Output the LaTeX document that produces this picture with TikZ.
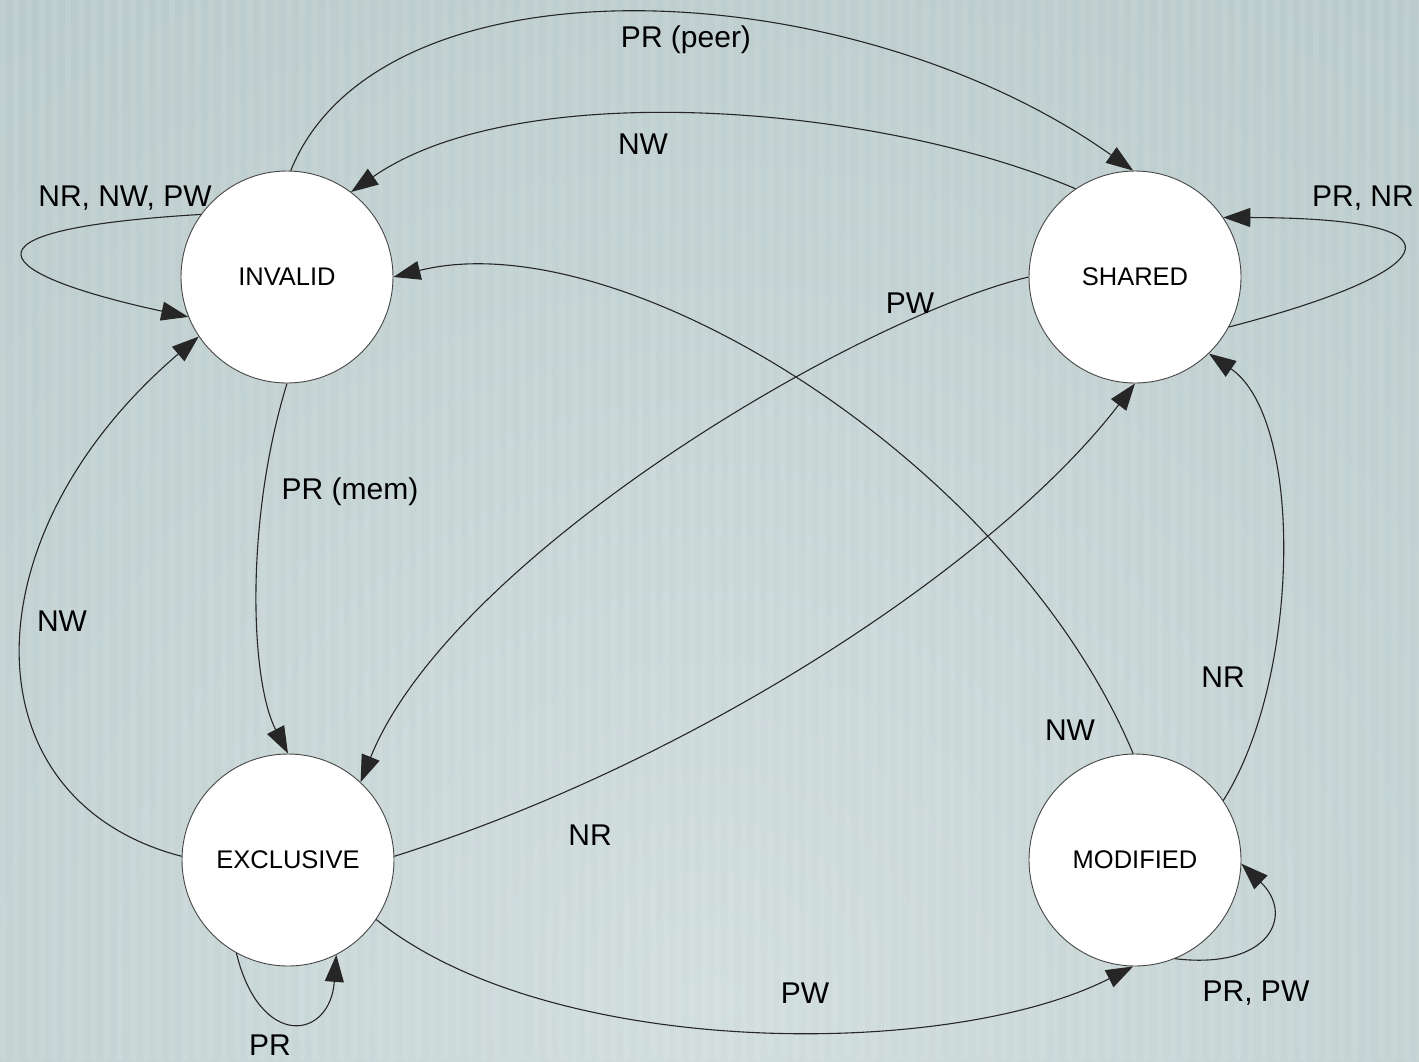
\documentclass[tikz,border=0pt]{standalone}
\usepackage{fontspec}
\setmainfont{Liberation Sans}
\usetikzlibrary{arrows.meta}
\definecolor{bgin}{RGB}{210,222,222}
\definecolor{bgout}{RGB}{160,180,181}
\definecolor{rim}{RGB}{70,70,70}
\tikzset{
  state/.style={circle, draw=rim, line width=0.9pt, fill=white, minimum size=212pt,
    inner sep=0pt, font=\fontsize{25.5}{30}\selectfont},
  lbl/.style={inner sep=0pt, font=\fontsize{30}{36}\selectfont},
  edge/.style={draw=black!85, line width=1.1pt, -{Triangle[length=27pt,width=19pt]}}
}
\begin{document}
\begin{tikzpicture}[x=1pt,y=-1pt]
\useasboundingbox (0,0) rectangle (1419,1061);
% background: soft radial glow with fine vertical stripes
\begin{scope}
  \clip (0,0) rectangle (1419,1061);
  \shade[inner color=bgin, outer color=bgout] (710,1000) circle (2600);
  \foreach \i in {0,...,109} {
    \fill[white, opacity=0.08] (13*\i,0) rectangle (13*\i+6,1061);
  }
\end{scope}

% states
\node[state] (inv) at (287,277) {INVALID};
\node[state] (sh)  at (1135,277) {SHARED};
\node[state] (ex)  at (288,860) {EXCLUSIVE};
\node[state] (mod) at (1135,860) {MODIFIED};

% transitions
\draw[edge] (inv.88) .. controls (380,-50) and (850,-30) .. (sh.91);
\draw[edge] (sh.124) .. controls (880,105) and (520,75) .. (inv.53);
\draw[edge] (inv.144) .. controls (-60,230) and (-5,275) .. (inv.202);
\draw[edge] (sh.-28) .. controls (1430,275) and (1488,218) .. (sh.34);
\draw[edge] (mod.91) .. controls (1010,460) and (620,220) .. (inv.0);
\draw[edge] (sh.180) .. controls (850,320) and (450,560) .. (ex.47);
\draw[edge] (ex.2) .. controls (700,760) and (1000,560) .. (sh.-90);
\draw[edge] (inv.-90) .. controls (245,520) and (250,680) .. (ex.90);
\draw[edge] (ex.178) .. controls (-35,800) and (-34,535) .. (inv.214);
\draw[edge] (ex.241) .. controls (260,1050) and (330,1040) .. (ex.297);
\draw[edge] (ex.-34) .. controls (550,1060) and (950,1060) .. (mod.-91);
\draw[edge] (mod.34) .. controls (1300,680) and (1305,420) .. (sh.-46);
\draw[edge] (mod.-68) .. controls (1270,970) and (1295,915) .. (mod.-2);

% transition labels
\node[lbl] (l1)  at (686,40)   {PR (peer)};
\node[lbl] (l2)  at (643,144)  {NW};
\node[lbl] (l3)  at (125,198)  {NR, NW, PW};
\node[lbl] (l4)  at (1363,198) {PR, NR};
\node[lbl] (l5)  at (910,303)  {PW};
\node[lbl] (l6)  at (350,492)  {PR (mem)};
\node[lbl] (l7)  at (62,621)   {NW};
\node[lbl] (l8)  at (1223,677) {NR};
\node[lbl] (l9)  at (1070,730) {NW};
\node[lbl] (l10) at (590,835)  {NR};
\node[lbl] (l11) at (805,993)  {PW};
\node[lbl] (l12) at (1256,993) {PR, PW};
\node[lbl] (l13) at (270,1045) {PR};
\end{tikzpicture}
\end{document}
